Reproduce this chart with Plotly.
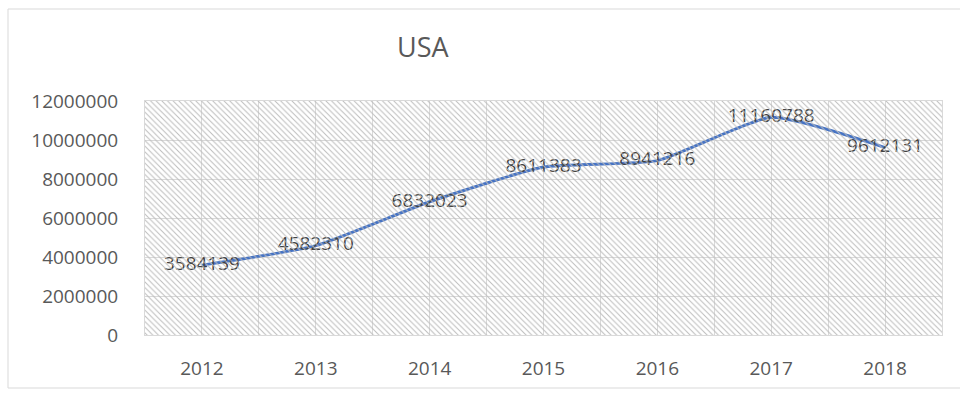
import plotly.graph_objects as go

years = ["2012", "2013", "2014", "2015", "2016", "2017", "2018"]
values = [3584139, 4582310, 6832023, 8611383, 8941216, 11160788, 9612131]
y_ticks = [0, 2000000, 4000000, 6000000, 8000000, 10000000, 12000000]
title_text = "USA"

xpos = list(range(len(years)))
FONT = "Open Sans"
GRAY = "#595959"

fig = go.Figure()

# hatched background of plot area (overlay axes)
fig.add_trace(go.Bar(
    x=[0.5], y=[1], width=[1], xaxis="x2", yaxis="y2",
    marker=dict(color="rgba(0,0,0,0)", line=dict(width=0),
                pattern=dict(shape="\\", fgcolor="#bcbcbc", bgcolor="rgba(0,0,0,0)",
                             size=4, solidity=0.25, fillmode="replace")),
    hoverinfo="skip", showlegend=False,
))

fig.add_trace(go.Scatter(
    x=xpos, y=values, mode="lines+text",
    line=dict(color="#4472C4", width=3, shape="spline", smoothing=0.5),
    text=[str(v) for v in values], textposition="middle center",
    textfont=dict(family=FONT, size=19, color="#404040"),
    showlegend=False,
))

fig.update_layout(
    width=960, height=394,
    margin=dict(l=145, r=18, t=101, b=59),
    paper_bgcolor="white", plot_bgcolor="white",
    font=dict(family=FONT, color=GRAY),
    xaxis=dict(range=[-0.5, 6.5], tickvals=xpos, ticktext=years,
               showgrid=True, gridcolor="#d9d9d9", gridwidth=1,
               minor=dict(dtick=0.5, tick0=-0.5, showgrid=True, gridcolor="#d9d9d9", gridwidth=1),
               zeroline=False, showline=True, linecolor="#d9d9d9", mirror=True,
               ticks="", ticklabelstandoff=16,
               tickfont=dict(family=FONT, size=19, color=GRAY)),
    yaxis=dict(range=[0, 12000000], tickvals=y_ticks, tickformat="d",
               showgrid=True, gridcolor="#d9d9d9", gridwidth=1,
               zeroline=False, showline=True, linecolor="#d9d9d9", mirror=True,
               ticks="", ticklabelstandoff=22,
               tickfont=dict(family=FONT, size=19, color=GRAY)),
    xaxis2=dict(range=[0, 1], overlaying="x", visible=False),
    yaxis2=dict(range=[0, 1], overlaying="y", visible=False),
    bargap=0,
)

pw, ph = 960 - 145 - 18, 394 - 101 - 59
fig.add_annotation(text=title_text, x=(423 - 145) / pw, xref="paper",
                   y=(335 - 47) / ph, yref="paper", xanchor="center", yanchor="middle",
                   showarrow=False, font=dict(family=FONT, size=27, color=GRAY))

# outer chart frame
fig.add_shape(type="rect", xref="paper", yref="paper",
              x0=(8 - 145) / pw, x1=(975 - 145) / pw,
              y0=(335 - 388) / ph, y1=(335 - 9) / ph,
              line=dict(color="#d9d9d9", width=1), fillcolor="rgba(0,0,0,0)", layer="below")

fig.write_html("out.html")
